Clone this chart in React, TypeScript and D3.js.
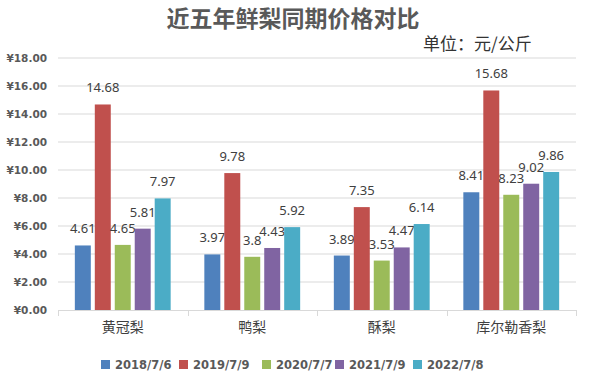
import { useEffect, useRef } from "react";
import * as d3 from "d3";

const categories = ["黄冠梨", "鸭梨", "酥梨", "库尔勒香梨"];
const seriesNames = ["2018/7/6", "2019/7/9", "2020/7/7", "2021/7/9", "2022/7/8"];
const seriesColors = ["#4F81BD", "#C0504D", "#9BBB59", "#8064A2", "#4BACC6"];
// values per series, in category order
const s2018 = [4.61, 3.97, 3.89, 8.41];
const s2019 = [14.68, 9.78, 7.35, 15.68];
const s2020 = [4.65, 3.8, 3.53, 8.23];
const s2021 = [5.81, 4.43, 4.47, 9.02];
const s2022 = [7.97, 5.92, 6.14, 9.86];
const seriesValues = [s2018, s2019, s2020, s2021, s2022];
const yTicks = [0, 2, 4, 6, 8, 10, 12, 14, 16, 18];

const W = 592;
const H = 384;
const margin = { top: 58, right: 16, bottom: 74, left: 58 };

export default function App() {
  const svgRef = useRef<SVGSVGElement>(null);

  useEffect(() => {
    if (!svgRef.current) return;
    const svg = d3.select(svgRef.current);
    svg.selectAll("*").remove();

    const x0 = d3
      .scaleBand<string>()
      .domain(categories)
      .range([margin.left, W - margin.right])
      .paddingInner(0.26)
      .paddingOuter(0.13);

    const x1 = d3
      .scaleBand<string>()
      .domain(seriesNames)
      .range([0, x0.bandwidth()])
      .paddingInner(0.2);

    const y = d3
      .scaleLinear()
      .domain([0, 18])
      .range([H - margin.bottom, margin.top]);

    const g = svg.append("g");

    // gridlines
    g.selectAll(".grid")
      .data(yTicks.filter((t) => t > 0))
      .enter()
      .append("line")
      .attr("x1", margin.left)
      .attr("x2", W - margin.right)
      .attr("y1", (d) => y(d))
      .attr("y2", (d) => y(d))
      .attr("stroke", "#d9d9d9")
      .attr("stroke-width", 1);

    // y tick labels
    g.selectAll(".ylab")
      .data(yTicks)
      .enter()
      .append("text")
      .attr("x", 47)
      .attr("y", (d) => y(d) + 4)
      .attr("text-anchor", "end")
      .attr("font-family", "DejaVu Sans")
      .attr("font-weight", "bold")
      .attr("font-size", 10.5)
      .attr("fill", "#595959")
      .text((d) => "¥" + d3.format(".2f")(d));

    // bottom axis line + ticks
    const step = x0.step();
    const x0Start = margin.left;
    g.append("line")
      .attr("x1", margin.left)
      .attr("x2", W - margin.right)
      .attr("y1", y(0) + 0.5)
      .attr("y2", y(0) + 0.5)
      .attr("stroke", "#d9d9d9");
    d3.range(categories.length + 1).forEach((i) => {
      const xx = Math.round(x0Start + i * step) + 0.5;
      g.append("line")
        .attr("x1", xx)
        .attr("x2", xx)
        .attr("y1", y(0))
        .attr("y2", y(0) + 6)
        .attr("stroke", "#d9d9d9");
    });

    // category labels
    g.selectAll(".xlab")
      .data(categories)
      .enter()
      .append("text")
      .attr("x", (d) => (x0(d) ?? 0) + x0.bandwidth() / 2)
      .attr("y", y(0) + 22)
      .attr("text-anchor", "middle")
      .attr("font-family", "Noto Sans CJK SC")
      .attr("font-size", 14)
      .attr("fill", "#404040")
      .text((d) => d);

    // bars
    seriesNames.forEach((name, si) => {
      const vals = seriesValues[si];
      g.selectAll(".bar-" + si)
        .data(vals)
        .enter()
        .append("rect")
        .attr("x", (_, ci) => (x0(categories[ci]) ?? 0) + (x1(name) ?? 0))
        .attr("y", (d) => y(d))
        .attr("width", x1.bandwidth())
        .attr("height", (d) => y(0) - y(d))
        .attr("fill", seriesColors[si]);

      g.selectAll(".lab-" + si)
        .data(vals)
        .enter()
        .append("text")
        .attr(
          "x",
          (_, ci) =>
            (x0(categories[ci]) ?? 0) + (x1(name) ?? 0) + x1.bandwidth() / 2
        )
        .attr("y", (d) => y(d) - 12)
        .attr("text-anchor", "middle")
        .attr("font-family", "Noto Sans")
        .attr("font-size", 13)
        .attr("fill", "#404040")
        .text((d) => String(d));
    });

    // title
    svg
      .append("text")
      .attr("x", 293)
      .attr("y", 27)
      .attr("text-anchor", "middle")
      .attr("font-family", "Noto Sans CJK SC")
      .attr("font-weight", "bold")
      .attr("font-size", 23)
      .attr("fill", "#595959")
      .text("近五年鲜梨同期价格对比");

    svg
      .append("text")
      .attr("x", 423)
      .attr("y", 50)
      .attr("font-family", "Noto Sans CJK SC")
      .attr("font-size", 17)
      .attr("fill", "#333333")
      .text("单位：元/公斤");

    // legend
    const legendX = [101, 179, 262, 335, 413];
    const lg = svg.append("g");
    seriesNames.forEach((name, si) => {
      lg.append("rect")
        .attr("x", legendX[si])
        .attr("y", 360)
        .attr("width", 9)
        .attr("height", 9)
        .attr("fill", seriesColors[si]);
      lg.append("text")
        .attr("x", legendX[si] + 14)
        .attr("y", 369)
        .attr("font-family", "DejaVu Sans")
        .attr("font-weight", "bold")
        .attr("font-size", 11.5)
        .attr("fill", "#595959")
        .text(name);
    });
  }, []);

  return (
    <svg
      ref={svgRef}
      width={W}
      height={H}
      style={{ position: "absolute", left: 0, top: 0, background: "#fff" }}
    />
  );
}
